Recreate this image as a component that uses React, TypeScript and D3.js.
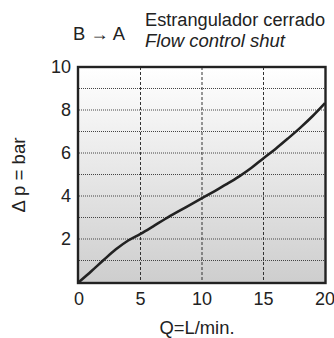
import React from "react";
import * as d3 from "d3";

const flowQ = [0, 1, 2, 3, 4, 5, 6, 7, 8, 9, 10, 11, 12, 13, 14, 15, 16, 17, 18, 19, 20];
const pressureP = [0, 0.5, 1.02, 1.52, 1.93, 2.24, 2.58, 2.93, 3.26, 3.58, 3.9, 4.22, 4.55, 4.9, 5.3, 5.76, 6.2, 6.68, 7.18, 7.72, 8.32];
const xTicks = [0, 5, 10, 15, 20];
const yTicks = [2, 4, 6, 8, 10];
const yGrid = [1, 2, 3, 4, 5, 6, 7, 8, 9];
const xGrid = [5, 10, 15];

const W = 334;
const H = 338;
const FONT = "'Liberation Sans', Arial, Helvetica, sans-serif";

export default function App() {
  const x = d3.scaleLinear().domain([0, 20]).range([79, 325]);
  const y = d3.scaleLinear().domain([0, 10]).range([282, 67]);
  const line = d3
    .line<number>()
    .x((_, i) => x(flowQ[i]))
    .y((d) => y(d))
    .curve(d3.curveCatmullRom.alpha(0.5));

  return (
    <svg
      width={W}
      height={H}
      style={{ position: "fixed", left: 0, top: 0, background: "#fff" }}
      fontFamily={FONT}
    >
      <defs>
        <linearGradient id="bg" x1="0" y1="0" x2="0" y2="1">
          <stop offset="0" stopColor="#ffffff" />
          <stop offset="1" stopColor="#cecece" />
        </linearGradient>
        <clipPath id="clip">
          <rect x={x(0)} y={y(10)} width={x(20) - x(0)} height={y(0) - y(10)} />
        </clipPath>
      </defs>

      <rect x={x(0)} y={y(10)} width={x(20) - x(0)} height={y(0) - y(10)} fill="url(#bg)" />

      {yGrid.map((v) => (
        <line
          key={"h" + v}
          x1={x(0)}
          x2={x(20)}
          y1={y(v)}
          y2={y(v)}
          stroke="#444"
          strokeWidth={1}
          strokeDasharray="1,1"
        />
      ))}
      {xGrid.map((v) => (
        <line
          key={"v" + v}
          x1={x(v)}
          x2={x(v)}
          y1={y(10)}
          y2={y(0)}
          stroke="#333"
          strokeWidth={1}
          strokeDasharray="3,2"
        />
      ))}

      <path
        d={line(pressureP) || ""}
        fill="none"
        stroke="#222"
        strokeWidth={2.6}
        clipPath="url(#clip)"
      />

      <rect
        x={x(0) - 1}
        y={y(10)}
        width={x(20) - x(0) + 1.5}
        height={y(0) - y(10) + 1}
        fill="none"
        stroke="#222"
        strokeWidth={2.4}
      />

      {yTicks.map((v) => (
        <text
          key={"yt" + v}
          x={71}
          y={y(v)}
          dy="0.36em"
          textAnchor="end"
          fontSize={18}
          fill="#222"
        >
          {v}
        </text>
      ))}
      {xTicks.map((v) => (
        <text key={"xt" + v} x={x(v)} y={305} textAnchor="middle" fontSize={18} fill="#222">
          {v}
        </text>
      ))}

      <text x={197} y={334} textAnchor="middle" fontSize={18} fill="#222" textLength={75} lengthAdjust="spacingAndGlyphs">
        Q=L/min.
      </text>
      <text
        transform="translate(25,175) rotate(-90)"
        textAnchor="middle"
        fontSize={18}
        fill="#222"
        textLength={75}
        lengthAdjust="spacingAndGlyphs"
      >
        Δ p = bar
      </text>

      <text x={73} y={40} fontSize={18} fill="#222" textLength={52} lengthAdjust="spacingAndGlyphs">
        B → A
      </text>
      <text x={145} y={26} fontSize={18} fill="#222" textLength={180} lengthAdjust="spacingAndGlyphs">
        Estrangulador cerrado
      </text>
      <text
        x={145}
        y={47}
        fontSize={18}
        fontStyle="italic"
        fill="#222"
        textLength={140}
        lengthAdjust="spacingAndGlyphs"
      >
        Flow control shut
      </text>
    </svg>
  );
}
